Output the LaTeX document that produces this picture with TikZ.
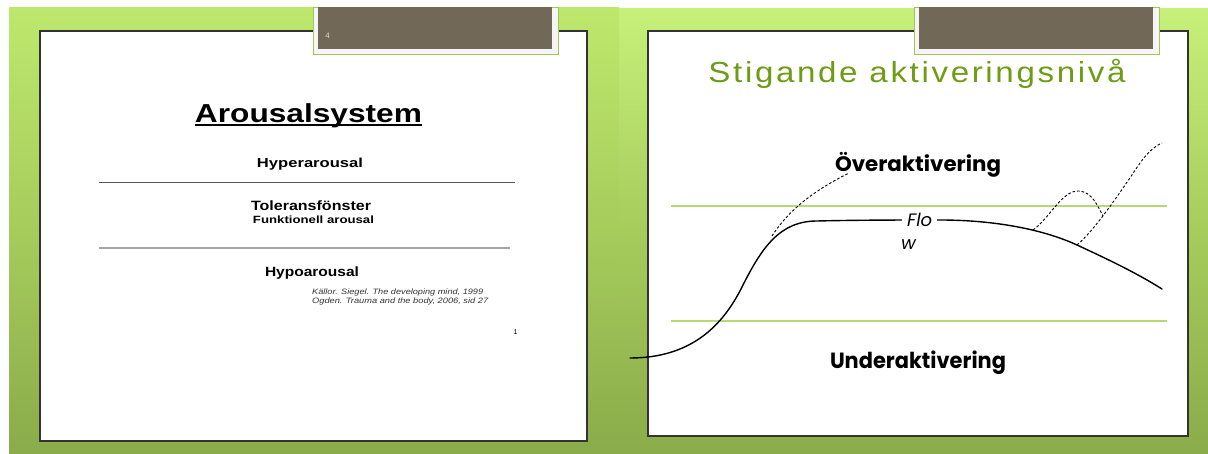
\documentclass[tikz,border=0pt]{standalone}
\usepackage{fontspec}
\usepackage{graphicx}
\setmainfont{Liberation Sans}
\newfontfamily\gothic{Poppins}
\newfontfamily\titlefont[LetterSpace=8]{Liberation Sans}
\newcommand\wfit[2]{\resizebox{#1}{\height}{#2}}
\definecolor{grtop}{HTML}{BDE86C}
\definecolor{grtopb}{HTML}{C6F07A}
\definecolor{grmid}{HTML}{A6CC5C}
\definecolor{grbot}{HTML}{8AAB4A}
\definecolor{tabbrown}{HTML}{716858}
\definecolor{tabedge}{HTML}{A3C557}
\definecolor{titlegreen}{HTML}{6E9C16}
\definecolor{bandline}{HTML}{B8D873}
\tikzset{
  slide/.style={fill=white, draw=black!80, line width=1.3pt},
  tabframe/.style={fill=black!4, draw=tabedge, line width=0.8pt},
  tabfill/.style={fill=tabbrown},
  txt/.style={inner sep=0pt, anchor=base},
  sepline/.style={line width=1pt},
  band/.style={draw=bandline, line width=1.2pt},
  curve/.style={line width=1.4pt, line cap=round},
  dashcurve/.style={line width=0.9pt, dash pattern=on 2.6pt off 2pt},
}
\begin{document}
\begin{tikzpicture}[x=1pt,y=-1pt]
\useasboundingbox (0,0) rectangle (1208,454);
\fill[white] (0,0) rectangle (1208,454);
% green backgrounds
\shade[top color=grtop, bottom color=grbot, middle color=grmid] (9,8) rectangle (619,454);
\shade[top color=grtopb, bottom color=grbot, middle color=grmid] (619,9) rectangle (1208,454);

% ---------- left slide ----------
\draw[slide] (40,31) rectangle (587,441);
\draw[tabframe] (313,7) rectangle (558,54);
\fill[tabfill] (318,7) rectangle (552,49);
\node[txt, text=black!15, font=\fontsize{8}{9}\selectfont] (pnum) at (327.5,39) {4};

\node[txt, font=\bfseries\fontsize{26}{30}\selectfont] (arousal) at (308.5,123) {\wfit{227pt}{Arousalsystem}};
\draw[line width=2pt] ([yshift=-2pt]arousal.base west) -- ([yshift=-2pt]arousal.base east);

\node[txt, font=\bfseries\fontsize{13}{15}\selectfont] (hyper) at (310,168) {\wfit{106pt}{Hyperarousal}};
\draw[sepline, draw=black!65] (99,183) -- (515,183);
\node[txt, font=\bfseries\fontsize{13.5}{15}\selectfont] (toler) at (311,211) {\wfit{120pt}{Toleransfönster}};
\node[txt, font=\bfseries\fontsize{10.5}{12}\selectfont] (funk) at (313.5,224) {\wfit{121pt}{Funktionell arousal}};
\draw[sepline, draw=black!35, line width=1.4pt] (99,248) -- (510,248);
\node[txt, font=\bfseries\fontsize{13.4}{15}\selectfont] (hypo) at (312,277) {\wfit{94pt}{Hypoarousal}};
\node[txt, anchor=base west, text=black!80, font=\itshape\fontsize{7.8}{9}\selectfont] (ref1) at (312,294.5) {\wfit{171pt}{Källor. Siegel. The developing mind, 1999}};
\node[txt, anchor=base west, text=black!80, font=\itshape\fontsize{7.8}{9}\selectfont] (ref2) at (312,303.5) {\wfit{176pt}{Ogden. Trauma and the body, 2006, sid 27}};
\node[txt, font=\fontsize{7}{8}\selectfont] (one) at (515.5,335) {1};

% ---------- right slide ----------
\draw[slide] (648,31) rectangle (1188,436);
\draw[tabframe] (914,7) rectangle (1159,54);
\fill[tabfill] (919,7) rectangle (1153,49);

\node[txt, text=titlegreen, font=\titlefont\fontsize{29}{34}\selectfont] (stig) at (917,83) {\wfit{417pt}{Stigande aktiveringsnivå}};

\draw[band] (671,206) -- (1167,206);
\draw[band] (671,321) -- (1167,321);

\node[txt, font=\gothic\bfseries\fontsize{21}{24}\selectfont] (over) at (918,172) {\wfit{166pt}{Överaktivering}};
\node[txt, font=\gothic\bfseries\fontsize{22}{25}\selectfont] (under) at (918,368) {\wfit{176pt}{Underaktivering}};

% main curve
\draw[curve] (630,358) .. controls (690,358) and (722,327) .. (742,287)
  .. controls (762,247) and (780,221) .. (817,221)
  .. controls (860,220) and (900,220) .. (940,220)
  .. controls (990,220) and (1040,228) .. (1077,245)
  .. controls (1105,258) and (1135,272) .. (1162,289);

% dashed excursions
\draw[dashcurve] (772,236) .. controls (785,216) and (805,195) .. (849,173);
\draw[dashcurve] (1033,230) .. controls (1050,218) and (1062,190) .. (1079,191)
  .. controls (1092,192) and (1097,205) .. (1103,216);
\draw[dashcurve] (1077,245) .. controls (1097,228) and (1125,185) .. (1140,163)
  .. controls (1148,152) and (1155,146) .. (1162,143);

\node[txt, anchor=base west, fill=white, inner xsep=5pt, inner ysep=1pt, font=\gothic\itshape\fontsize{18}{20}\selectfont] (flo) at (902,227) {Flo};
\node[txt, anchor=base west, font=\gothic\itshape\fontsize{18}{20}\selectfont] (w) at (901,250) {w};
\end{tikzpicture}
\end{document}
